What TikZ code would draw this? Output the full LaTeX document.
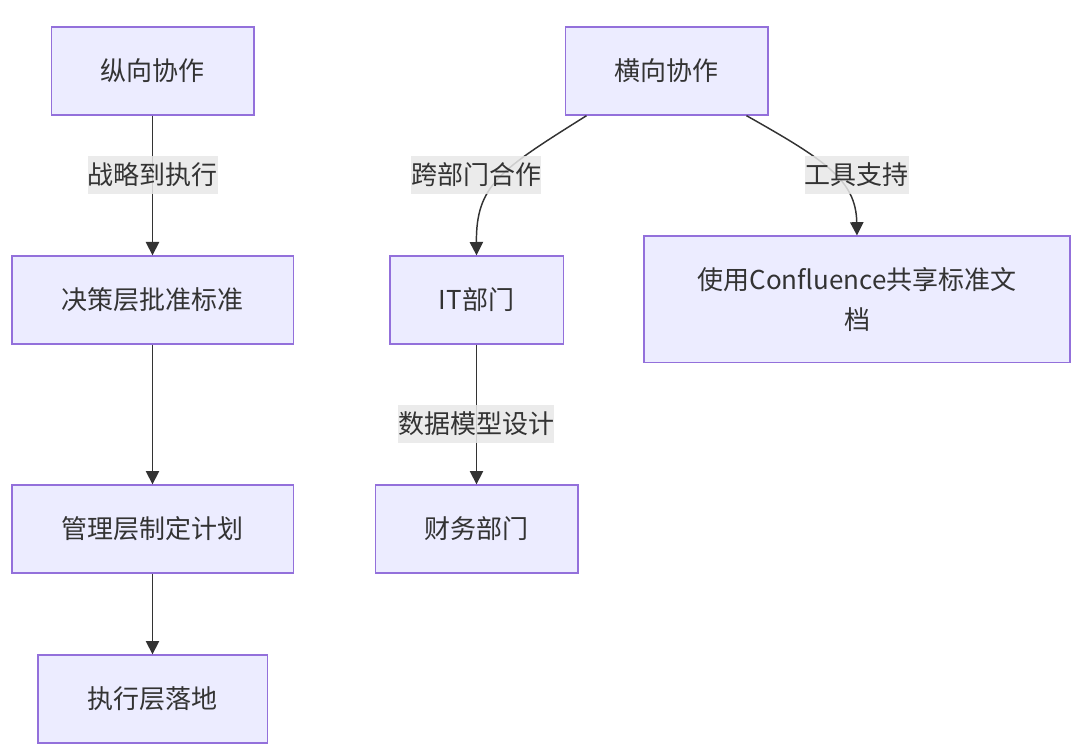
\documentclass[tikz,border=0pt]{standalone}
\usepackage{fontspec}
\setmainfont{Noto Sans CJK SC}
\usetikzlibrary{arrows.meta}
\definecolor{boxfill}{HTML}{ECECFF}
\definecolor{boxline}{HTML}{9370DB}
\definecolor{edgeline}{HTML}{333333}
\definecolor{lblfill}{HTML}{E8E8E8}
\begin{document}
\begin{tikzpicture}[x=0.75pt,y=-0.75pt,
  box/.style={fill=boxfill,draw=boxline,line width=1pt,shape=rectangle,minimum height=66pt,inner sep=0pt,text=edgeline,font=\fontsize{19.5}{29.5}\selectfont},
  lbl/.style={fill=lblfill,fill opacity=0.85,text opacity=1,text=edgeline,inner xsep=0pt,inner ysep=0pt,minimum height=28.5pt,font=\fontsize{19.5}{26}\selectfont},
  flow/.style={-{Triangle[length=10pt,width=10pt]},line width=1.1pt,draw=edgeline}]
\useasboundingbox (0,0) rectangle (1082,752);
\node[box,minimum width=152pt](V) at (152.5,71){纵向协作};
\node[box,minimum width=211pt](V1) at (152.5,300){决策层批准标准};
\node[box,minimum width=211pt](V2) at (152.5,529){管理层制定计划};
\node[box,minimum width=172pt](V3) at (152.5,699){执行层落地};
\node[box,minimum width=152pt](H) at (666.5,71){横向协作};
\node[box,minimum width=130pt](IT) at (476.5,300){IT部门};
\node[box,minimum width=152pt](FIN) at (476.5,529){财务部门};
\node[box,minimum width=319.5pt,minimum height=95pt,align=center](CF) at (857,299.5){使用Confluence共享标准文\\档};
\draw[flow] (V) -- (V1);
\draw[flow] (V1) -- (V2);
\draw[flow] (V2) -- (V3);
\draw[flow] (IT) -- (FIN);
\draw[flow] ([xshift=-60pt]H.south) .. controls (500,170) and (476,185) .. (IT.north);
\draw[flow] ([xshift=60pt]H.south) .. controls (825,160) and (856,180) .. (CF.north);
\node[lbl](L1) at (152.5,175){战略到执行};
\node[lbl](L2) at (476,175){跨部门合作};
\node[lbl](L3) at (476,424){数据模型设计};
\node[lbl](L4) at (856.5,175){工具支持};
\end{tikzpicture}
\end{document}
